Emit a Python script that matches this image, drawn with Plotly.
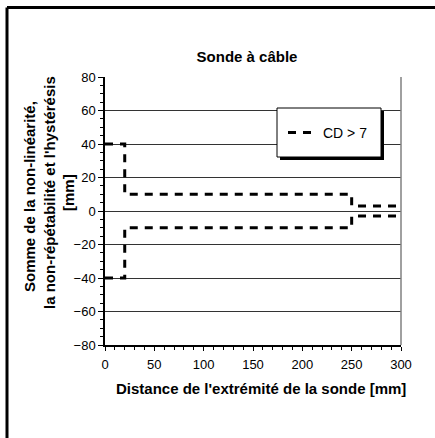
import plotly.graph_objects as go

# Step profile of the measurement error band (CD > 7)
distance = [0, 20, 20, 250, 250, 300]
upper_err = [40, 40, 10, 10, 3, 3]
lower_err = [-40, -40, -10, -10, -3, -3]
series_name = "CD > 7"

x_ticks = [0, 50, 100, 150, 200, 250, 300]
y_ticks = [-80, -60, -40, -20, 0, 20, 40, 60, 80]

W, H = 435, 438
L, R, T, B = 105, 34, 77, 93
pw, ph = W - L - R, H - T - B


def px_x(p):
    return (p - L) / pw


def px_y(p):
    return (H - B - p) / ph


font = "Liberation Sans, Arial, sans-serif"
line_style = dict(color="black", width=3, dash="8px,7px")
title_size = 15


def label(text, x, y, angle=0):
    return dict(text=f"<b>{text}</b>", xref="paper", yref="paper",
                x=px_x(x), y=px_y(y), xanchor="center", yanchor="middle",
                textangle=angle, showarrow=False,
                font=dict(family=font, size=title_size, color="black"))


fig = go.Figure()
fig.add_trace(go.Scatter(x=distance, y=upper_err, mode="lines", line=line_style,
                         name=series_name, showlegend=True))
fig.add_trace(go.Scatter(x=distance, y=lower_err, mode="lines", line=line_style,
                         name=series_name, showlegend=False))

shapes = [
    # outer frame (top and left edges)
    dict(type="line", xref="paper", yref="paper", x0=px_x(7), x1=px_x(440),
         y0=px_y(7.5), y1=px_y(7.5), line=dict(color="black", width=3)),
    dict(type="line", xref="paper", yref="paper", x0=px_x(7), x1=px_x(7),
         y0=px_y(7.5), y1=px_y(445), line=dict(color="black", width=3)),
    # right edge of plot area
    dict(type="line", xref="paper", yref="paper", x0=1, x1=1, y0=0, y1=1,
         line=dict(color="#808080", width=1.5)),
    # legend box shadow and frame
    dict(type="rect", xref="paper", yref="paper", x0=px_x(280), x1=px_x(384),
         y0=px_y(160), y1=px_y(111), fillcolor="black", line=dict(width=0), layer="above"),
    dict(type="rect", xref="paper", yref="paper", x0=px_x(277), x1=px_x(381),
         y0=px_y(157), y1=px_y(108), fillcolor="white",
         line=dict(color="black", width=1), layer="above"),
]

annotations = [
    label("Somme de la non-linéarité,", 29, 197, -90),
    label("la non-répétabilité et l'hystérésis", 49, 193, -90),
    label("[mm]", 68, 193, -90),
    label("Distance de l'extrémité de la sonde [mm]", 261, 388),
]

fig.update_layout(
    width=W, height=H,
    margin=dict(l=L, r=R, t=T, b=B),
    paper_bgcolor="white", plot_bgcolor="white",
    font=dict(family=font, size=13, color="black"),
    title=dict(text="<b>Sonde à câble</b>", x=px_x(247), xref="paper", xanchor="center",
               y=1 - 57 / H, yanchor="middle", font=dict(family=font, size=title_size)),
    showlegend=True,
    legend=dict(x=px_x(283), y=px_y(133), xanchor="left", yanchor="middle",
                bgcolor="rgba(0,0,0,0)", borderwidth=0,
                font=dict(family=font, size=14, color="black")),
    shapes=shapes,
    annotations=annotations,
)

fig.update_xaxes(
    range=[0, 300], tickvals=x_ticks, ticks="outside", ticklen=4, tickwidth=1,
    tickcolor="black", showline=True, linecolor="black", linewidth=1.5,
    showgrid=False, zeroline=False, tickfont=dict(size=13), ticklabelstandoff=3,
    minor=dict(dtick=10, ticks="outside", ticklen=3, tickcolor="black"),
)
fig.update_yaxes(
    range=[-80, 80], tickvals=y_ticks, ticks="outside", ticklen=5, tickwidth=1,
    tickcolor="black", showline=True, linecolor="black", linewidth=1.5,
    showgrid=True, gridcolor="#333333", gridwidth=1, zeroline=False,
    tickfont=dict(size=13),
    minor=dict(dtick=5, ticks="outside", ticklen=3, tickcolor="black", showgrid=False),
)

fig.write_html("out.html")
